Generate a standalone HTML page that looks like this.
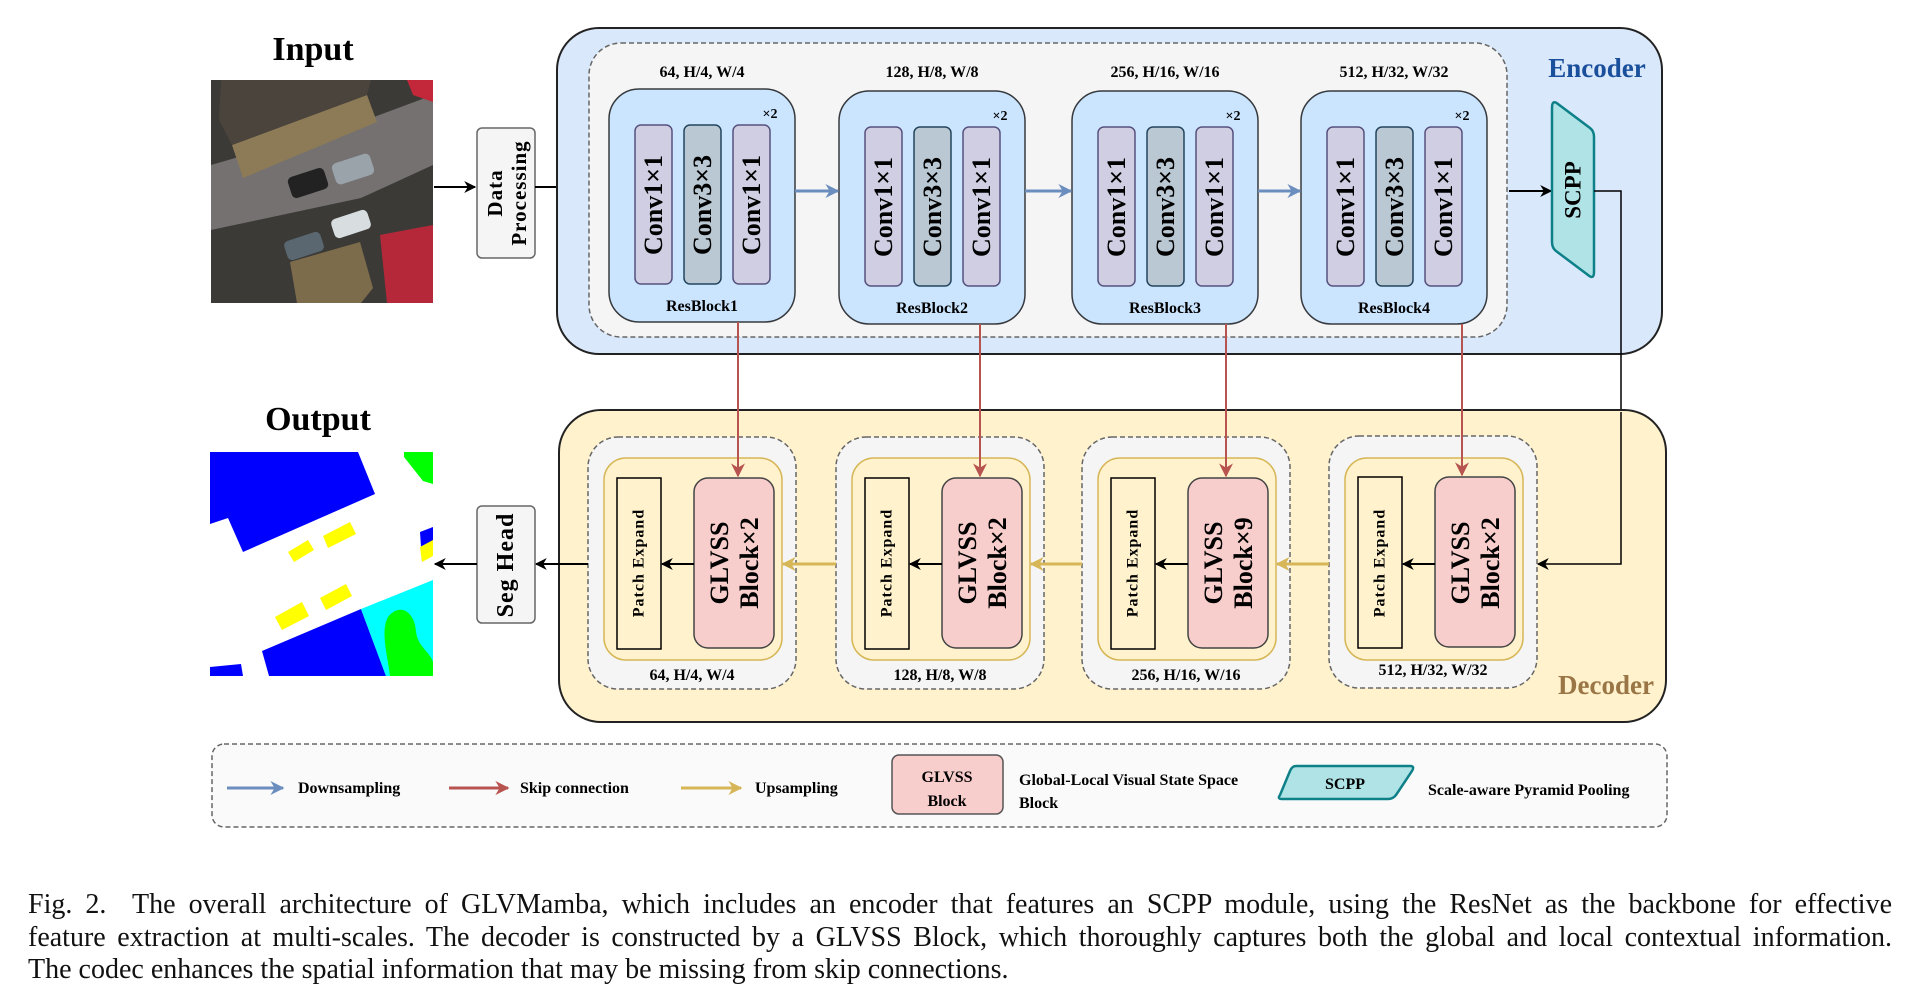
<!DOCTYPE html>
<html><head><meta charset="utf-8"><style>
html,body{margin:0;padding:0;background:#fff;}
svg{display:block;}
.b{font-family:"Liberation Serif",serif;font-weight:bold;}
.cap{position:absolute;left:28px;width:1864px;font-family:"Liberation Serif",serif;font-size:28px;text-align:justify;text-align-last:justify;white-space:nowrap;color:#111;}
</style></head><body>
<div style="position:relative;width:1924px;height:997px;overflow:hidden;">
<svg width="1924" height="997" viewBox="0 0 1924 997" xmlns="http://www.w3.org/2000/svg">
<defs>
<marker id="ak" viewBox="0 0 10 10" refX="9" refY="5" markerWidth="12" markerHeight="12" markerUnits="userSpaceOnUse" orient="auto"><path d="M0,0 L10,5 L0,10 L3,5 Z" fill="#000"/></marker>
<marker id="ab" viewBox="0 0 10 10" refX="9" refY="5" markerWidth="14" markerHeight="14" markerUnits="userSpaceOnUse" orient="auto"><path d="M0,0 L10,5 L0,10 L3,5 Z" fill="#6c8ebf"/></marker>
<marker id="ar" viewBox="0 0 10 10" refX="9" refY="5" markerWidth="14" markerHeight="14" markerUnits="userSpaceOnUse" orient="auto"><path d="M0,0 L10,5 L0,10 L3,5 Z" fill="#b85450"/></marker>
<marker id="ay" viewBox="0 0 10 10" refX="9" refY="5" markerWidth="14" markerHeight="14" markerUnits="userSpaceOnUse" orient="auto"><path d="M0,0 L10,5 L0,10 L3,5 Z" fill="#d6b656"/></marker>
</defs>

<text class="b" x="313" y="60" font-size="34" text-anchor="middle">Input</text>
<text class="b" x="318" y="430" font-size="34" text-anchor="middle">Output</text>

<g transform="translate(211,80)">
<rect width="222" height="223" fill="#3b3a37"/>
<polygon points="0,85 155,40 222,15 222,85 150,118 0,150" fill="#747170"/>
<polygon points="21,65 156,15 166,42 32,98" fill="#8c7b56"/>
<polygon points="10,0 160,0 156,15 21,65 8,40" fill="#4a443c"/>
<polygon points="79,182 149,162 162,208 150,223 86,223" fill="#7d6c4c"/>
<polygon points="196,0 222,0 222,22 202,15" fill="#c2283a"/>
<polygon points="169,155 222,145 222,223 176,223" fill="#b5283a"/>
<rect x="122" y="78" width="40" height="22" rx="5" fill="#9aa3aa" transform="rotate(-18 142 89)"/>
<rect x="121" y="134" width="38" height="20" rx="5" fill="#d8dde0" transform="rotate(-18 140 144)"/>
<rect x="74" y="156" width="38" height="20" rx="5" fill="#5a6670" transform="rotate(-18 93 166)"/>
<rect x="78" y="92" width="38" height="22" rx="5" fill="#222" transform="rotate(-18 97 103)"/>
</g>

<g transform="translate(210,452)">
<rect width="223" height="224" fill="#fff"/>
<polygon points="0,0 148,0 165,42 33,100 18,66 0,72" fill="#0000ff"/>
<polygon points="194,0 223,0 223,32 213,29 194,5" fill="#00ff00"/>
<polygon points="52,199 151,157 176,224 59,224" fill="#0000ff"/>
<polygon points="151,157 223,128 223,224 176,224" fill="#00ffff"/>
<path d="M178,165 C190,150 205,160 206,180 C208,195 220,200 223,210 L223,224 L180,224 C178,205 170,180 178,165 Z" fill="#00ff00"/>
<polygon points="0,224 0,215 31,212 33,224" fill="#0000ff"/>
<polygon points="210,80 223,75 223,100 212,110" fill="#0000ff"/>
<g fill="#ffff00">
<polygon points="78,100 98,88 104,98 84,110"/>
<polygon points="113,84 140,70 146,82 118,96"/>
<polygon points="65,165 92,150 99,164 72,178"/>
<polygon points="110,146 136,132 142,144 116,158"/>
<polygon points="210,95 223,88 223,104 212,110"/>
</g>
</g>

<rect x="477" y="128" width="58" height="130" rx="5" fill="#f5f5f5" stroke="#666" stroke-width="1.5"/>
<text class="b" font-size="21" letter-spacing="1" transform="translate(506,193) rotate(-90)" text-anchor="middle"><tspan x="0" dy="-4">Data</tspan><tspan x="0" dy="24">Processing</tspan></text>
<line x1="434" y1="187" x2="475" y2="187" stroke="#000" stroke-width="2" marker-end="url(#ak)"/>
<line x1="535" y1="187" x2="587" y2="187" stroke="#000" stroke-width="2" marker-end="url(#ak)"/>

<rect x="557" y="28" width="1105" height="326" rx="42" fill="#dae8fc" stroke="#222" stroke-width="2"/>
<rect x="589" y="43" width="918" height="294" rx="32" fill="#f5f5f5" stroke="#666" stroke-width="1.5" stroke-dasharray="5,3"/>
<text class="b" x="1597" y="77" font-size="27" fill="#1a4f9c" text-anchor="middle">Encoder</text>

<g font-family="Liberation Serif,serif" font-weight="bold">
<g transform="translate(609,0)">
<text x="93" y="77" font-size="16" text-anchor="middle">64, H/4, W/4</text>
<rect x="0" y="89" width="186" height="233" rx="30" fill="#cce5ff" stroke="#36393d" stroke-width="1.5"/>
<text x="161" y="118" font-size="14" text-anchor="middle">×2</text>
<rect x="26" y="125" width="37" height="159" rx="6" fill="#d0cee2" stroke="#56517e" stroke-width="1.5"/>
<rect x="75" y="125" width="37" height="159" rx="6" fill="#bac8d3" stroke="#23445d" stroke-width="1.5"/>
<rect x="124" y="125" width="37" height="159" rx="6" fill="#d0cee2" stroke="#56517e" stroke-width="1.5"/>
<text font-size="26" transform="translate(44.5,205) rotate(-90)" text-anchor="middle" dominant-baseline="central">Conv1×1</text>
<text font-size="26" transform="translate(93.5,205) rotate(-90)" text-anchor="middle" dominant-baseline="central">Conv3×3</text>
<text font-size="26" transform="translate(142.5,205) rotate(-90)" text-anchor="middle" dominant-baseline="central">Conv1×1</text>
<text x="93" y="311" font-size="16" text-anchor="middle">ResBlock1</text>
</g>
<g transform="translate(839,2)">
<text x="93" y="75" font-size="16" text-anchor="middle">128, H/8, W/8</text>
<rect x="0" y="89" width="186" height="233" rx="30" fill="#cce5ff" stroke="#36393d" stroke-width="1.5"/>
<text x="161" y="118" font-size="14" text-anchor="middle">×2</text>
<rect x="26" y="125" width="37" height="159" rx="6" fill="#d0cee2" stroke="#56517e" stroke-width="1.5"/>
<rect x="75" y="125" width="37" height="159" rx="6" fill="#bac8d3" stroke="#23445d" stroke-width="1.5"/>
<rect x="124" y="125" width="37" height="159" rx="6" fill="#d0cee2" stroke="#56517e" stroke-width="1.5"/>
<text font-size="26" transform="translate(44.5,205) rotate(-90)" text-anchor="middle" dominant-baseline="central">Conv1×1</text>
<text font-size="26" transform="translate(93.5,205) rotate(-90)" text-anchor="middle" dominant-baseline="central">Conv3×3</text>
<text font-size="26" transform="translate(142.5,205) rotate(-90)" text-anchor="middle" dominant-baseline="central">Conv1×1</text>
<text x="93" y="311" font-size="16" text-anchor="middle">ResBlock2</text>
</g>
<g transform="translate(1072,2)">
<text x="93" y="75" font-size="16" text-anchor="middle">256, H/16, W/16</text>
<rect x="0" y="89" width="186" height="233" rx="30" fill="#cce5ff" stroke="#36393d" stroke-width="1.5"/>
<text x="161" y="118" font-size="14" text-anchor="middle">×2</text>
<rect x="26" y="125" width="37" height="159" rx="6" fill="#d0cee2" stroke="#56517e" stroke-width="1.5"/>
<rect x="75" y="125" width="37" height="159" rx="6" fill="#bac8d3" stroke="#23445d" stroke-width="1.5"/>
<rect x="124" y="125" width="37" height="159" rx="6" fill="#d0cee2" stroke="#56517e" stroke-width="1.5"/>
<text font-size="26" transform="translate(44.5,205) rotate(-90)" text-anchor="middle" dominant-baseline="central">Conv1×1</text>
<text font-size="26" transform="translate(93.5,205) rotate(-90)" text-anchor="middle" dominant-baseline="central">Conv3×3</text>
<text font-size="26" transform="translate(142.5,205) rotate(-90)" text-anchor="middle" dominant-baseline="central">Conv1×1</text>
<text x="93" y="311" font-size="16" text-anchor="middle">ResBlock3</text>
</g>
<g transform="translate(1301,2)">
<text x="93" y="75" font-size="16" text-anchor="middle">512, H/32, W/32</text>
<rect x="0" y="89" width="186" height="233" rx="30" fill="#cce5ff" stroke="#36393d" stroke-width="1.5"/>
<text x="161" y="118" font-size="14" text-anchor="middle">×2</text>
<rect x="26" y="125" width="37" height="159" rx="6" fill="#d0cee2" stroke="#56517e" stroke-width="1.5"/>
<rect x="75" y="125" width="37" height="159" rx="6" fill="#bac8d3" stroke="#23445d" stroke-width="1.5"/>
<rect x="124" y="125" width="37" height="159" rx="6" fill="#d0cee2" stroke="#56517e" stroke-width="1.5"/>
<text font-size="26" transform="translate(44.5,205) rotate(-90)" text-anchor="middle" dominant-baseline="central">Conv1×1</text>
<text font-size="26" transform="translate(93.5,205) rotate(-90)" text-anchor="middle" dominant-baseline="central">Conv3×3</text>
<text font-size="26" transform="translate(142.5,205) rotate(-90)" text-anchor="middle" dominant-baseline="central">Conv1×1</text>
<text x="93" y="311" font-size="16" text-anchor="middle">ResBlock4</text>
</g>
</g>
<g stroke="#6c8ebf" stroke-width="3">
<line x1="795" y1="191" x2="838" y2="191" marker-end="url(#ab)"/>
<line x1="1025" y1="191" x2="1071" y2="191" marker-end="url(#ab)"/>
<line x1="1258" y1="191" x2="1300" y2="191" marker-end="url(#ab)"/>
</g>
<line x1="1509" y1="191" x2="1551" y2="191" stroke="#000" stroke-width="2" marker-end="url(#ak)"/>
<path d="M1552,108 Q1552,99 1558,104 L1590,128 Q1594,131 1594,137 L1594,272 Q1594,280 1588,275 L1556,251 Q1552,248 1552,242 Z" fill="#b0e3e6" stroke="#0e8088" stroke-width="2.5"/>
<text class="b" font-size="23" transform="translate(1573,190) rotate(-90)" text-anchor="middle" dominant-baseline="central">SCPP</text>
<polyline points="1594,191 1621,191 1621,564 1538,564" fill="none" stroke="#000" stroke-width="1.5" marker-end="url(#ak)"/>

<rect x="559" y="410" width="1107" height="312" rx="42" fill="#fff2cc" stroke="#222" stroke-width="2"/>
<text class="b" x="1606" y="694" font-size="27" fill="#9a7546" text-anchor="middle">Decoder</text>
<polyline points="1621,412 1621,564 1538,564" fill="none" stroke="#000" stroke-width="1.5" marker-end="url(#ak)"/>

<g font-family="Liberation Serif,serif" font-weight="bold">
<g transform="translate(588,0)">
<rect x="0" y="437" width="208" height="252" rx="30" fill="#f5f5f5" stroke="#666" stroke-width="1.5" stroke-dasharray="5,3"/>
<rect x="16" y="458" width="178" height="202" rx="22" fill="#fff2cc" stroke="#d6b656" stroke-width="1.5"/>
<rect x="29" y="478" width="44" height="171" fill="#fff2cc" stroke="#000" stroke-width="1.5"/>
<rect x="106" y="478" width="80" height="170" rx="14" fill="#f8cecc" stroke="#444" stroke-width="1.5"/>
<text font-size="16" letter-spacing="1" transform="translate(51,563) rotate(-90)" text-anchor="middle" dominant-baseline="central">Patch Expand</text>
<text font-size="26" transform="translate(146,563) rotate(-90)" text-anchor="middle"><tspan x="0" dy="-6">GLVSS</tspan><tspan x="0" dy="30">Block×2</tspan></text>
<line x1="106" y1="564" x2="74" y2="564" stroke="#000" stroke-width="2" marker-end="url(#ak)"/>
<text x="104" y="680" font-size="16" text-anchor="middle">64, H/4, W/4</text>
</g>
<g transform="translate(836,0)">
<rect x="0" y="437" width="208" height="252" rx="30" fill="#f5f5f5" stroke="#666" stroke-width="1.5" stroke-dasharray="5,3"/>
<rect x="16" y="458" width="178" height="202" rx="22" fill="#fff2cc" stroke="#d6b656" stroke-width="1.5"/>
<rect x="29" y="478" width="44" height="171" fill="#fff2cc" stroke="#000" stroke-width="1.5"/>
<rect x="106" y="478" width="80" height="170" rx="14" fill="#f8cecc" stroke="#444" stroke-width="1.5"/>
<text font-size="16" letter-spacing="1" transform="translate(51,563) rotate(-90)" text-anchor="middle" dominant-baseline="central">Patch Expand</text>
<text font-size="26" transform="translate(146,563) rotate(-90)" text-anchor="middle"><tspan x="0" dy="-6">GLVSS</tspan><tspan x="0" dy="30">Block×2</tspan></text>
<line x1="106" y1="564" x2="74" y2="564" stroke="#000" stroke-width="2" marker-end="url(#ak)"/>
<text x="104" y="680" font-size="16" text-anchor="middle">128, H/8, W/8</text>
</g>
<g transform="translate(1082,0)">
<rect x="0" y="437" width="208" height="252" rx="30" fill="#f5f5f5" stroke="#666" stroke-width="1.5" stroke-dasharray="5,3"/>
<rect x="16" y="458" width="178" height="202" rx="22" fill="#fff2cc" stroke="#d6b656" stroke-width="1.5"/>
<rect x="29" y="478" width="44" height="171" fill="#fff2cc" stroke="#000" stroke-width="1.5"/>
<rect x="106" y="478" width="80" height="170" rx="14" fill="#f8cecc" stroke="#444" stroke-width="1.5"/>
<text font-size="16" letter-spacing="1" transform="translate(51,563) rotate(-90)" text-anchor="middle" dominant-baseline="central">Patch Expand</text>
<text font-size="26" transform="translate(146,563) rotate(-90)" text-anchor="middle"><tspan x="0" dy="-6">GLVSS</tspan><tspan x="0" dy="30">Block×9</tspan></text>
<line x1="106" y1="564" x2="74" y2="564" stroke="#000" stroke-width="2" marker-end="url(#ak)"/>
<text x="104" y="680" font-size="16" text-anchor="middle">256, H/16, W/16</text>
</g>
<g transform="translate(1329,0)">
<rect x="0" y="436" width="208" height="252" rx="30" fill="#f5f5f5" stroke="#666" stroke-width="1.5" stroke-dasharray="5,3"/>
<rect x="16" y="458" width="178" height="202" rx="22" fill="#fff2cc" stroke="#d6b656" stroke-width="1.5"/>
<rect x="29" y="477" width="44" height="171" fill="#fff2cc" stroke="#000" stroke-width="1.5"/>
<rect x="106" y="477" width="80" height="170" rx="14" fill="#f8cecc" stroke="#444" stroke-width="1.5"/>
<text font-size="16" letter-spacing="1" transform="translate(51,563) rotate(-90)" text-anchor="middle" dominant-baseline="central">Patch Expand</text>
<text font-size="26" transform="translate(146,563) rotate(-90)" text-anchor="middle"><tspan x="0" dy="-6">GLVSS</tspan><tspan x="0" dy="30">Block×2</tspan></text>
<line x1="106" y1="564" x2="74" y2="564" stroke="#000" stroke-width="2" marker-end="url(#ak)"/>
<text x="104" y="675" font-size="16" text-anchor="middle">512, H/32, W/32</text>
</g>
</g>
<g stroke="#d6b656" stroke-width="3">
<line x1="836" y1="564" x2="783" y2="564" marker-end="url(#ay)"/>
<line x1="1082" y1="564" x2="1031" y2="564" marker-end="url(#ay)"/>
<line x1="1329" y1="564" x2="1277" y2="564" marker-end="url(#ay)"/>
</g>
<g stroke="#b85450" stroke-width="2">
<line x1="738" y1="322" x2="738" y2="476" marker-end="url(#ar)"/>
<line x1="980" y1="324" x2="980" y2="476" marker-end="url(#ar)"/>
<line x1="1226" y1="324" x2="1226" y2="476" marker-end="url(#ar)"/>
<line x1="1462" y1="324" x2="1462" y2="475" marker-end="url(#ar)"/>
</g>

<line x1="588" y1="564" x2="536" y2="564" stroke="#000" stroke-width="2" marker-end="url(#ak)"/>
<rect x="477" y="506" width="58" height="117" rx="5" fill="#f5f5f5" stroke="#666" stroke-width="1.5"/>
<text class="b" font-size="24" letter-spacing="1" transform="translate(506,565) rotate(-90)" text-anchor="middle" dominant-baseline="central">Seg Head</text>
<line x1="477" y1="564" x2="435" y2="564" stroke="#000" stroke-width="2" marker-end="url(#ak)"/>

<rect x="212" y="744" width="1455" height="83" rx="12" fill="#fafafa" stroke="#666" stroke-width="1.5" stroke-dasharray="5,3"/>
<g font-family="Liberation Serif,serif" font-weight="bold" font-size="16">
<line x1="227" y1="788" x2="283" y2="788" stroke="#6c8ebf" stroke-width="3" marker-end="url(#ab)"/>
<text x="298" y="793">Downsampling</text>
<line x1="449" y1="788" x2="508" y2="788" stroke="#b85450" stroke-width="3" marker-end="url(#ar)"/>
<text x="520" y="793">Skip connection</text>
<line x1="681" y1="788" x2="741" y2="788" stroke="#d6b656" stroke-width="3" marker-end="url(#ay)"/>
<text x="755" y="793">Upsampling</text>
<rect x="892" y="755" width="111" height="59" rx="7" fill="#f8cecc" stroke="#555" stroke-width="1.5"/>
<text x="947" y="782" text-anchor="middle">GLVSS</text>
<text x="947" y="806" text-anchor="middle">Block</text>
<text x="1019" y="785">Global-Local Visual State Space</text>
<text x="1019" y="808">Block</text>
<path d="M1296,766 L1410,766 Q1415,766 1412,771 L1396,795 Q1393,799 1388,799 L1282,799 Q1277,799 1280,795 L1290,771 Q1292,766 1296,766 Z" fill="#b0e3e6" stroke="#0e8088" stroke-width="2.5"/>
<text x="1345" y="789" text-anchor="middle">SCPP</text>
<text x="1428" y="795">Scale-aware Pyramid Pooling</text>
</g>
</svg>
<div class="cap" style="top:889px;">Fig. 2.&nbsp; The overall architecture of GLVMamba, which includes an encoder that features an SCPP module, using the ResNet as the backbone for effective</div>
<div class="cap" style="top:922px;">feature extraction at multi-scales. The decoder is constructed by a GLVSS Block, which thoroughly captures both the global and local contextual information.</div>
<div class="cap" style="top:954px;text-align-last:left;">The codec enhances the spatial information that may be missing from skip connections.</div>
</div>
</body></html>
